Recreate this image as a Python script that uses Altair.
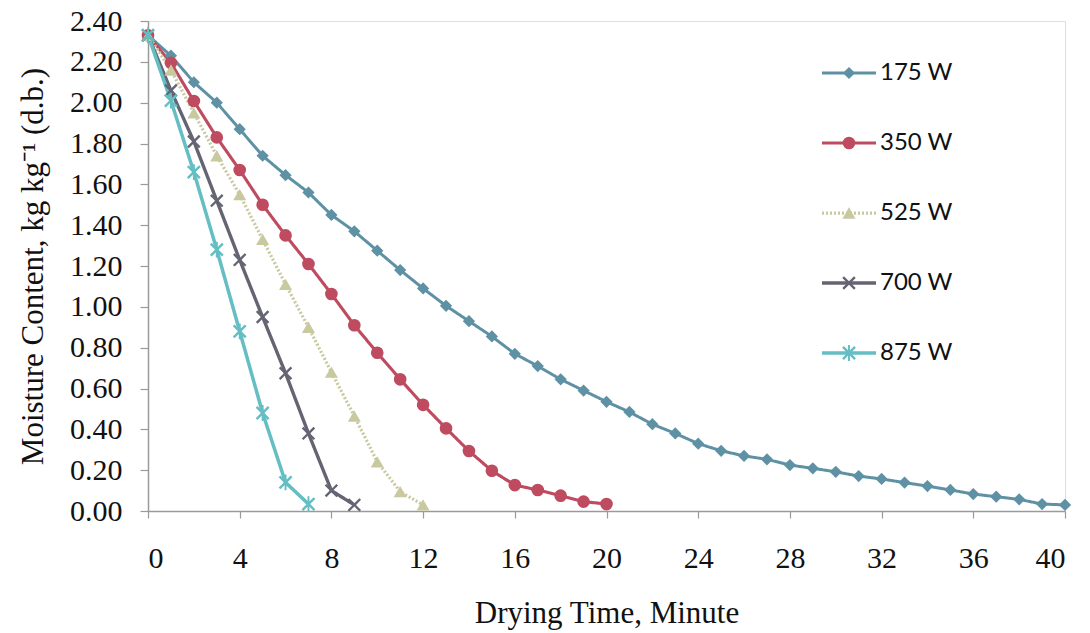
import altair as alt
import pandas as pd

# ---- data ----
series_names = ["175 W", "350 W", "525 W", "700 W", "875 W"]

mc_175 = [2.33, 2.23, 2.10, 2.00, 1.87, 1.74, 1.645, 1.56, 1.45, 1.37, 1.275,
          1.18, 1.09, 1.005, 0.93, 0.855, 0.77, 0.71, 0.645, 0.59, 0.535,
          0.485, 0.425, 0.38, 0.33, 0.295, 0.27, 0.253, 0.225, 0.209, 0.192,
          0.171, 0.157, 0.139, 0.122, 0.103, 0.083, 0.07, 0.057, 0.034, 0.03]
mc_350 = [2.33, 2.195, 2.008, 1.83, 1.67, 1.50, 1.35, 1.21, 1.063, 0.91, 0.775,
          0.645, 0.52, 0.405, 0.294, 0.197, 0.127, 0.103, 0.075, 0.046, 0.034]
mc_525 = [2.33, 2.16, 1.95, 1.74, 1.55, 1.33, 1.11, 0.90, 0.68, 0.465, 0.241,
          0.095, 0.03]
mc_700 = [2.33, 2.06, 1.81, 1.52, 1.23, 0.95, 0.675, 0.38, 0.10, 0.03]
mc_875 = [2.33, 2.01, 1.66, 1.28, 0.88, 0.48, 0.14, 0.034]

time_175 = list(range(0, 41))
time_350 = list(range(0, 21))
time_525 = list(range(0, 13))
time_700 = list(range(0, 10))
time_875 = list(range(0, 8))

x_ticks = [0, 4, 8, 12, 16, 20, 24, 28, 32, 36, 40]
y_ticks = [0.0, 0.2, 0.4, 0.6, 0.8, 1.0, 1.2, 1.4, 1.6, 1.8, 2.0, 2.2, 2.4]

# ---- styles ----
series_colors = ["#5F91A5", "#BE4B5F", "#C9C9A0", "#646473", "#64BEC3"]
line_widths = [3, 3.5, 1.6, 3, 2.5]
line_dashes = [[1, 0], [1, 0], [2, 2], [1, 0], [1, 0]]
# filled polygon shapes (so that they fill in plot and legend alike)
X_POLY = "M-1,-0.75L-0.75,-1L0,-0.25L0.75,-1L1,-0.75L0.25,0L1,0.75L0.75,1L0,0.25L-0.75,1L-1,0.75L-0.25,0Z"
AST_POLY = X_POLY + "M-0.14,-1.15H0.14V1.15H-0.14Z"
marker_shapes = ["diamond", "circle", "triangle-up", X_POLY, AST_POLY]
marker_sizes = [150, 190, 70, 130, 110]

rows = []
for name, times, vals in zip(
    series_names,
    [time_175, time_350, time_525, time_700, time_875],
    [mc_175, mc_350, mc_525, mc_700, mc_875],
):
    for t, v in zip(times, vals):
        rows.append({"series": name, "marker_key": name + " \u200b", "time": t, "mc": v})
df = pd.DataFrame(rows)
marker_keys = [n + " \u200b" for n in series_names]

serif = "Liberation Serif"

x_enc = alt.X(
    "time:Q",
    scale=alt.Scale(domain=[0, 40], nice=False),
    axis=alt.Axis(
        title="Drying Time, Minute", values=x_ticks, grid=False,
        labelFont=serif, labelFontSize=30, labelColor="#111",
        labelPadding=25, tickSize=7, tickColor="#9a9a9a", domainColor="#9a9a9a",
        domainWidth=1.5, tickWidth=1.2, titleFont=serif, titleFontSize=31,
        titleFontWeight="normal", titleColor="#111", titlePadding=25,
    ),
)
y_enc = alt.Y(
    "mc:Q",
    scale=alt.Scale(domain=[0, 2.4], nice=False),
    axis=alt.Axis(
        title="Moisture Content, kg kg\u207b\u00b9 (d.b.)", values=y_ticks,
        format=".2f", grid=False, labelFont=serif, labelFontSize=30,
        labelColor="#111", labelPadding=18, tickSize=8, tickColor="#9a9a9a",
        domainColor="#9a9a9a", domainWidth=1.5, tickWidth=1.2,
        titleFont=serif, titleFontSize=31, titleFontWeight="normal",
        titleColor="#111", titlePadding=20,
    ),
)

LEG_X, LEG_Y = 674, 39
line_legend = alt.Legend(
    title=None, orient="none", legendX=LEG_X, legendY=LEG_Y, direction="vertical",
    labelFont="Lato", labelFontSize=24, labelColor="#111",
    symbolType="stroke", symbolSize=2916, symbolOffset=-2, labelOffset=2,
    clipHeight=26, rowPadding=44, padding=0, zindex=0,
)
point_legend = alt.Legend(
    title=None, orient="none", legendX=LEG_X, legendY=LEG_Y, direction="vertical",
    labelFont="Lato", labelFontSize=24, labelExpr="''",
    symbolSize=130, symbolOffset=15, symbolOpacity=1,
    clipHeight=26, rowPadding=44, padding=0, zindex=1,
)

lines = alt.Chart(df).mark_line().encode(
    x=x_enc,
    y=y_enc,
    color=alt.Color("series:N", scale=alt.Scale(domain=series_names, range=series_colors),
                    legend=line_legend),
    strokeWidth=alt.StrokeWidth(
        "series:N", scale=alt.Scale(domain=series_names, range=line_widths), legend=line_legend
    ),
    strokeDash=alt.StrokeDash(
        "series:N", scale=alt.Scale(domain=series_names, range=line_dashes), legend=line_legend
    ),
)

points = alt.Chart(df).mark_point(filled=True, opacity=1).encode(
    x=x_enc,
    y=y_enc,
    color=alt.Color("marker_key:N", scale=alt.Scale(domain=marker_keys, range=series_colors),
                    legend=point_legend),
    shape=alt.Shape(
        "marker_key:N", scale=alt.Scale(domain=marker_keys, range=marker_shapes),
        legend=point_legend,
    ),
    size=alt.Size(
        "marker_key:N", scale=alt.Scale(domain=marker_keys, range=marker_sizes), legend=None
    ),
)

chart = (
    alt.layer(lines, points)
    .resolve_scale(color="independent", shape="independent", size="independent",
                   strokeDash="independent", strokeWidth="independent")
    .resolve_legend(color="independent", shape="independent", size="independent",
                    strokeDash="independent", strokeWidth="independent")
    .properties(
        width=917, height=490,
        autosize=alt.AutoSizeParams(type="none"),
        padding={"left": 148, "top": 21, "right": 25, "bottom": 122},
    )
    .configure_view(stroke=None)
    .configure(background="white")
)

chart.save("out.html", embed_options={"renderer": "svg", "actions": False})
